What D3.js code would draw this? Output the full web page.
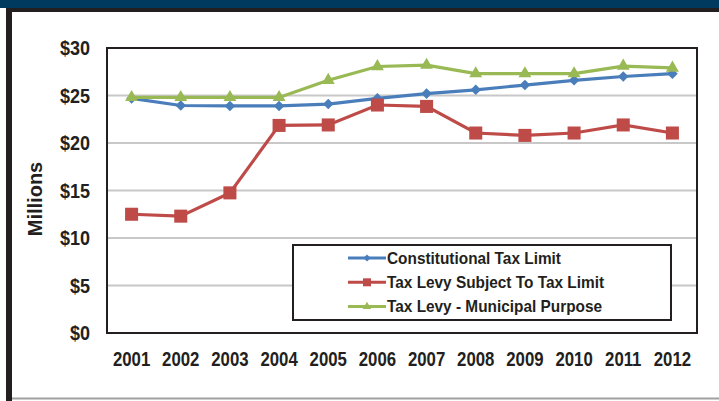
<!DOCTYPE html>
<html>
<head>
<meta charset="utf-8">
<script src="https://cdn.jsdelivr.net/npm/d3@7"></script>
<style>
  body { margin: 0; background: #fff; }
  text { font-family: "Liberation Sans", Arial, sans-serif; font-weight: bold; fill: #231f20; }
</style>
</head>
<body>
<script>
// chart data
var years = ["2001","2002","2003","2004","2005","2006","2007","2008","2009","2010","2011","2012"];
var constitutional = [24.7, 23.95, 23.9, 23.9, 24.1, 24.7, 25.2, 25.6, 26.1, 26.6, 27.0, 27.3];
var levySubject = [12.5, 12.3, 14.75, 21.85, 21.9, 24.0, 23.85, 21.05, 20.8, 21.05, 21.9, 21.05];
var levyMunicipal = [24.8, 24.8, 24.8, 24.8, 26.6, 28.05, 28.2, 27.3, 27.3, 27.3, 28.1, 27.9];
var yTicks = [0, 5, 10, 15, 20, 25, 30];
var seriesNames = ["Constitutional Tax Limit", "Tax Levy Subject To Tax Limit", "Tax Levy - Municipal Purpose"];

var width = 719, height = 401;
var plot = {left: 107, right: 697, top: 48, bottom: 333};

var svg = d3.select("body").append("svg")
    .attr("width", width)
    .attr("height", height);

// page frame
svg.append("rect").attr("x", 0).attr("y", 0).attr("width", width).attr("height", 8).attr("fill", "#003a5e");
svg.append("rect").attr("x", 6).attr("y", 8).attr("width", width - 6).attr("height", 4).attr("fill", "#231f20");
svg.append("rect").attr("x", 6).attr("y", 8).attr("width", 6).attr("height", height - 8).attr("fill", "#231f20");
svg.append("rect").attr("x", 12).attr("y", 397.5).attr("width", width - 12).attr("height", 2).attr("fill", "#a0a0a0");

var x = d3.scaleBand()
    .domain(years)
    .range([plot.left, plot.right]);

var y = d3.scaleLinear()
    .domain([0, 30])
    .range([plot.bottom, plot.top]);

// gridlines
svg.append("g")
  .selectAll("line")
    .data(yTicks.filter(function(d) { return d > 0 && d < 30; }))
  .enter().append("line")
    .attr("x1", plot.left).attr("x2", plot.right)
    .attr("y1", function(d) { return y(d); })
    .attr("y2", function(d) { return y(d); })
    .style("stroke", "#c8c8c8")
    .style("stroke-width", 2);

// plot border
svg.append("rect")
    .attr("x", plot.left).attr("y", plot.top)
    .attr("width", plot.right - plot.left).attr("height", plot.bottom - plot.top)
    .attr("fill", "none")
    .style("stroke", "#231f20")
    .style("stroke-width", 2);

// y tick labels
var fmt = function(d) { return "$" + d; };
svg.append("g")
  .selectAll("text")
    .data(yTicks)
  .enter().append("text")
    .attr("transform", function(d) { return "translate(90," + (y(d) + 7) + ") scale(0.9,1)"; })
    .attr("text-anchor", "end")
    .style("font-size", "20px")
    .text(fmt);

// x tick labels
svg.append("g")
  .selectAll("text")
    .data(years)
  .enter().append("text")
    .attr("transform", function(d) { return "translate(" + (x(d) + x.bandwidth() / 2) + ",366) scale(0.8,1)"; })
    .attr("text-anchor", "middle")
    .style("font-size", "21px")
    .text(function(d) { return d; });

// axis title
svg.append("text")
    .attr("transform", "translate(42,199) rotate(-90)")
    .attr("text-anchor", "middle")
    .style("font-size", "20px")
    .text("Millions");

var series = [
  {name: seriesNames[0], values: constitutional, color: "#4a7ebb", symbol: d3.symbolSquare, size: 56, rot: 45, lsize: 26},
  {name: seriesNames[1], values: levySubject, color: "#be4b48", symbol: d3.symbolSquare, size: 170, rot: 0, lsize: 64},
  {name: seriesNames[2], values: levyMunicipal, color: "#98b954", symbol: d3.symbolTriangle, size: 72, rot: 0, lsize: 30}
];

var line = d3.line()
    .x(function(d, i) { return x(years[i]) + x.bandwidth() / 2; })
    .y(function(d) { return y(d); });

series.forEach(function(s) {
  var g = svg.append("g");
  g.append("path")
      .datum(s.values)
      .attr("d", line)
      .attr("fill", "none")
      .style("stroke", s.color)
      .style("stroke-width", 3.2);
  g.selectAll("path.mark")
      .data(s.values)
    .enter().append("path")
      .attr("class", "mark")
      .attr("d", d3.symbol().type(s.symbol).size(s.size))
      .attr("transform", function(d, i) {
        return "translate(" + (x(years[i]) + x.bandwidth() / 2) + "," + y(d) + ") rotate(" + s.rot + ")";
      })
      .attr("fill", s.color);
});

// legend
var legend = svg.append("g");
legend.append("rect")
    .attr("x", 293).attr("y", 245)
    .attr("width", 378).attr("height", 75)
    .attr("fill", "#fff")
    .style("stroke", "#231f20")
    .style("stroke-width", 2);

var rows = legend.selectAll("g.row")
    .data(series)
  .enter().append("g")
    .attr("class", "row")
    .attr("transform", function(d, i) { return "translate(0," + (258 + i * 24.3) + ")"; });

rows.append("line")
    .attr("x1", 348).attr("x2", 386)
    .attr("y1", 0).attr("y2", 0)
    .style("stroke", function(d) { return d.color; })
    .style("stroke-width", 3);

rows.append("path")
    .attr("d", function(d) { return d3.symbol().type(d.symbol).size(d.lsize)(); })
    .attr("transform", function(d) { return "translate(367,0) rotate(" + d.rot + ")"; })
    .attr("fill", function(d) { return d.color; });

rows.append("text")
    .attr("transform", "translate(387,5.5) scale(1,1.05)")
    .style("font-size", "15.4px")
    .text(function(d) { return d.name; });
</script>
</body>
</html>
